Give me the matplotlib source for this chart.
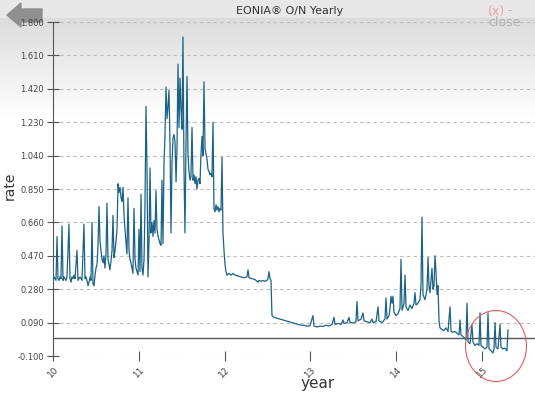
import numpy as np
import matplotlib
matplotlib.use('Agg')
import matplotlib.pyplot as plt
from matplotlib.patches import Ellipse, Polygon

''' DATA '''

# EONIA overnight rate (x = year, 10 -> 2010)
yr10 = [10.000, 10.012, 10.023, 10.035, 10.047, 10.058, 10.070, 10.082, 10.093, 10.105,
        10.117, 10.128, 10.140, 10.152, 10.163, 10.186, 10.198, 10.210, 10.221, 10.233,
        10.245, 10.256, 10.280, 10.291, 10.303, 10.315, 10.338, 10.361, 10.373, 10.385,
        10.396, 10.408, 10.420, 10.431, 10.443, 10.455, 10.466, 10.478, 10.490, 10.501,
        10.513, 10.524, 10.536, 10.548, 10.559, 10.571, 10.583, 10.594, 10.606, 10.618,
        10.629, 10.641, 10.653, 10.664, 10.676, 10.688, 10.699, 10.711, 10.723, 10.734,
        10.746, 10.758, 10.769, 10.781, 10.793, 10.804, 10.816, 10.828, 10.839, 10.851,
        10.862, 10.874, 10.886, 10.897, 10.909, 10.921, 10.932, 10.944, 10.956, 10.967,
        10.979, 10.991]
rt10 = [0.33, 0.35, 0.34, 0.33, 0.58, 0.34, 0.33, 0.35, 0.34, 0.64,
        0.33, 0.35, 0.34, 0.33, 0.35, 0.65, 0.34, 0.32, 0.35, 0.34,
        0.36, 0.34, 0.50, 0.33, 0.34, 0.35, 0.33, 0.65, 0.34, 0.35,
        0.33, 0.30, 0.32, 0.35, 0.33, 0.66, 0.31, 0.30, 0.36, 0.40,
        0.42, 0.52, 0.75, 0.55, 0.50, 0.45, 0.43, 0.47, 0.40, 0.48,
        0.77, 0.45, 0.42, 0.39, 0.44, 0.50, 0.70, 0.46, 0.50, 0.55,
        0.62, 0.88, 0.83, 0.86, 0.80, 0.78, 0.86, 0.70, 0.62, 0.55,
        0.48, 0.80, 0.50, 0.45, 0.43, 0.40, 0.37, 0.74, 0.45, 0.40,
        0.38, 0.36]

yr11 = [11.002, 11.014, 11.026, 11.037, 11.049, 11.061, 11.072, 11.084, 11.096, 11.107,
        11.119, 11.131, 11.142, 11.154, 11.166, 11.177, 11.189, 11.200, 11.212, 11.224,
        11.235, 11.247, 11.259, 11.270, 11.282, 11.294, 11.305, 11.317, 11.329, 11.340,
        11.352, 11.364, 11.375, 11.387, 11.399, 11.410, 11.422, 11.434, 11.445, 11.457,
        11.469, 11.480, 11.492, 11.503, 11.515, 11.527, 11.538, 11.550, 11.562, 11.573,
        11.585, 11.597, 11.608, 11.620, 11.632, 11.643, 11.655, 11.667, 11.678, 11.690,
        11.702, 11.713, 11.725, 11.737, 11.748, 11.760, 11.772, 11.783, 11.795, 11.807,
        11.818, 11.830, 11.841, 11.853, 11.865, 11.876, 11.888, 11.900, 11.911, 11.923,
        11.935, 11.946, 11.958, 11.970, 11.981, 11.993, 12.005]
rt11 = [0.62, 0.38, 0.82, 0.40, 0.36, 0.45, 0.75, 1.32, 0.95, 0.35,
        0.55, 0.97, 0.60, 0.66, 0.58, 0.67, 0.60, 0.84, 0.62, 0.58,
        0.56, 0.54, 0.53, 0.90, 0.54, 1.00, 1.15, 1.43, 1.25, 1.32,
        1.41, 1.10, 0.60, 1.00, 1.14, 1.16, 1.12, 0.89, 1.08, 1.56,
        1.20, 1.48, 1.30, 1.19, 1.715, 0.95, 0.60, 1.10, 1.49, 1.05,
        0.95, 0.90, 0.92, 1.20, 0.90, 0.93, 0.88, 0.92, 0.85, 0.90,
        0.91, 0.88, 1.05, 1.15, 1.04, 1.46, 1.08, 1.05, 1.02, 0.96,
        0.95, 0.93, 0.94, 0.92, 1.23, 0.74, 0.72, 0.76, 0.73, 0.75,
        0.72, 0.74, 0.73, 1.03, 0.60, 0.50, 0.42]

yr12 = [12.016, 12.028, 12.051, 12.075, 12.098, 12.121, 12.156, 12.191, 12.226, 12.261,
        12.273, 12.284, 12.319, 12.354, 12.389, 12.401, 12.424, 12.448, 12.471, 12.494,
        12.506, 12.517, 12.529, 12.541, 12.552, 12.576, 12.611, 12.646, 12.681, 12.716,
        12.750, 12.785, 12.820, 12.855, 12.890, 12.925, 12.960, 12.995]
rt12 = [0.38, 0.36, 0.37, 0.36, 0.37, 0.36, 0.355, 0.35, 0.345, 0.35,
        0.39, 0.345, 0.34, 0.335, 0.32, 0.33, 0.325, 0.33, 0.325, 0.33,
        0.34, 0.38, 0.34, 0.33, 0.13, 0.12, 0.115, 0.11, 0.105, 0.10,
        0.095, 0.09, 0.085, 0.08, 0.075, 0.075, 0.07, 0.072]

yr13 = [13.030, 13.042, 13.077, 13.112, 13.147, 13.182, 13.217, 13.252, 13.275, 13.287,
        13.322, 13.357, 13.380, 13.392, 13.427, 13.450, 13.462, 13.497, 13.531, 13.543,
        13.555, 13.590, 13.613, 13.625, 13.660, 13.695, 13.718, 13.730, 13.765, 13.788,
        13.800, 13.834, 13.869, 13.881, 13.893, 13.916, 13.928, 13.939, 13.951, 13.963,
        13.974, 13.998]
rt13 = [0.13, 0.07, 0.065, 0.07, 0.068, 0.075, 0.07, 0.08, 0.12, 0.08,
        0.085, 0.08, 0.105, 0.085, 0.09, 0.12, 0.09, 0.088, 0.095, 0.21,
        0.10, 0.11, 0.145, 0.10, 0.095, 0.09, 0.11, 0.09, 0.095, 0.18,
        0.10, 0.09, 0.11, 0.23, 0.11, 0.13, 0.17, 0.24, 0.20, 0.24,
        0.15, 0.13]

yr14 = [14.021, 14.044, 14.056, 14.068, 14.091, 14.103, 14.114, 14.138, 14.161, 14.184,
        14.207, 14.219, 14.231, 14.254, 14.277, 14.289, 14.301, 14.312, 14.336, 14.359,
        14.371, 14.382, 14.394, 14.417, 14.429, 14.441, 14.452, 14.464, 14.476, 14.487,
        14.499, 14.510, 14.534, 14.557, 14.580, 14.604, 14.627, 14.639, 14.662, 14.685,
        14.709, 14.732, 14.744, 14.755, 14.779, 14.802, 14.814, 14.825, 14.837, 14.860,
        14.883, 14.895, 14.918, 14.942, 14.965, 14.977, 14.988]
rt14 = [0.14, 0.17, 0.45, 0.16, 0.20, 0.36, 0.18, 0.16, 0.19, 0.17,
        0.20, 0.26, 0.19, 0.20, 0.22, 0.30, 0.69, 0.25, 0.22, 0.28,
        0.46, 0.30, 0.26, 0.40, 0.28, 0.30, 0.47, 0.38, 0.25, 0.30,
        0.10, 0.06, 0.05, 0.045, 0.06, 0.04, 0.18, 0.04, 0.035, 0.04,
        0.03, 0.02, 0.105, 0.02, 0.01, 0.00, -0.01, 0.20, -0.02, -0.03,
        0.077, -0.02, -0.04, -0.03, -0.04, 0.145, -0.04]

yr15 = [15.012, 15.035, 15.058, 15.070, 15.082, 15.105, 15.128, 15.140, 15.152, 15.163,
        15.186, 15.210, 15.221, 15.245, 15.268, 15.291, 15.303]
rt15 = [-0.05, -0.06, -0.05, 0.145, -0.06, -0.07, -0.083, -0.06, 0.09, -0.05,
        -0.06, 0.08, -0.05, -0.06, -0.055, -0.07, 0.048]

yticks = [-0.1, 0.09, 0.28, 0.47, 0.66, 0.85, 1.04, 1.23, 1.42, 1.61, 1.8]
xticks = [10, 11, 12, 13, 14, 15]

years = yr10 + yr11 + yr12 + yr13 + yr14 + yr15
rates = rt10 + rt11 + rt12 + rt13 + rt14 + rt15


''' PLOTTING '''

W, H = 535, 395
fig = plt.figure(figsize=(W / 100, H / 100), dpi=100)

# grey gradient backdrop + back arrow
bg = fig.add_axes([0, 0, 1, 1], zorder=-5)
rows = np.arange(H)
shade = np.where(rows < 18, 0.91, np.clip(0.86 + (rows - 18) / (120 - 18) * 0.14, 0.86, 1.0))
bg.imshow(np.tile(shade[:, None], (1, 2)), cmap='gray', vmin=0, vmax=1,
          aspect='auto', extent=[0, W, H, 0])
bg.add_patch(Polygon([(7, 15), (21, 3), (21, 9), (42, 9), (42, 22), (21, 22), (21, 27)],
                     closed=True, color='#8f8f8f'))
bg.set_xlim(0, W)
bg.set_ylim(H, 0)
bg.axis('off')

ax = fig.add_axes([53 / W, (H - 356) / H, (W - 53) / W, (356 - 22) / H])
ax.set_facecolor('none')
ax.plot(years, rates, color='#1b6386', lw=0.9, zorder=3)
ax.axhline(0, color='#555555', lw=1.0, zorder=2)

ax.set_xlim(10, 10 + (W - 53) / 85.8)
ax.set_ylim(-0.1, 1.8)
ax.set_yticks(yticks)
ax.set_yticklabels(['%.3f' % v for v in yticks])
ax.set_xticks(xticks)
ax.set_xticklabels([str(v) for v in xticks], rotation=45, ha='center', va='top')
ax.grid(axis='y', color='#bbbbbb', ls=(0, (3, 3)), lw=0.8)

for s in ['top', 'right', 'bottom']:
    ax.spines[s].set_visible(False)
ax.spines['left'].set_color('#555555')
ax.tick_params(axis='y', direction='inout', length=9, color='#555555',
               labelsize=6, labelcolor='#444444', pad=2)
ax.tick_params(axis='x', direction='inout', length=7, color='#555555',
               labelsize=6.5, labelcolor='#444444', pad=3)

ax.set_xlabel('year', fontsize=11, color='#333333')
ax.xaxis.set_label_coords((318 - 53) / (W - 53), -0.06)
ax.set_ylabel('rate', fontsize=10, color='#333333')
ax.yaxis.set_label_coords(-0.075, 0.51)

# red highlight circle round 2015
ax.add_patch(Ellipse((15.163, -0.043), 0.711, 0.404, fill=False,
                     edgecolor='#e06060', lw=0.8, clip_on=False, zorder=4))

fig.text(290 / W, 1 - 11 / H, 'EONIA® O/N Yearly', fontsize=8, color='#333333',
         ha='center', va='center')
fig.text(488 / W, 1 - 11 / H, '(x)', fontsize=9, color='#e8a0a0', ha='left', va='center')
fig.text(507 / W, 1 - 11 / H, '-', fontsize=9, color='#b0b0b0', ha='left', va='center')
fig.text(488 / W, 1 - 23 / H, 'close', fontsize=9, color='#b0b0b0', ha='left', va='center')

fig.savefig('out.png', dpi=100)
